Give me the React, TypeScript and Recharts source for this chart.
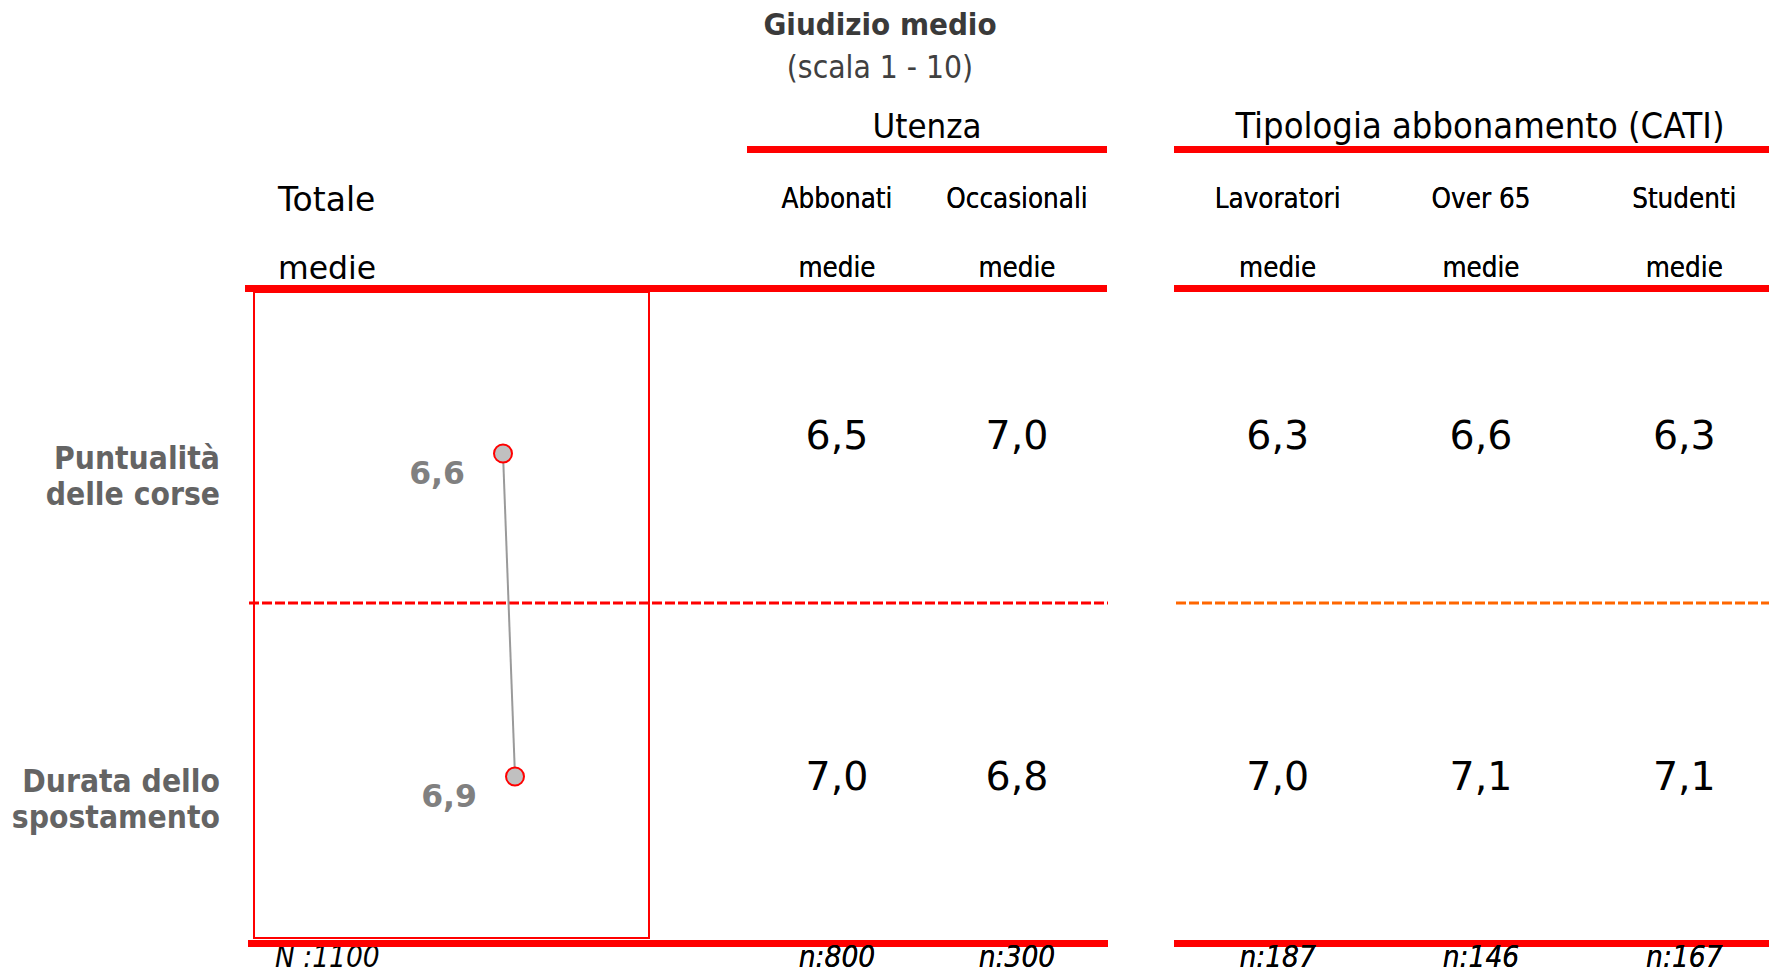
import React from 'react';
import { ComposedChart, ScatterChart, Scatter, Line, XAxis, YAxis, LabelList } from 'recharts';

// ---------- data ----------
const ROWS = ['Puntualità delle corse', 'Durata dello spostamento'];
const ROW_LINES = [
  ['Puntualità', 'delle corse'],
  ['Durata dello', 'spostamento'],
];
const TOTAL_VALUES = [6.6, 6.9];
const TOTAL_N = 1100;

const UTENZA_COLS = ['Abbonati', 'Occasionali'];
const UTENZA_N = [800, 300];
const ABBONATI = [6.5, 7.0];
const OCCASIONALI = [7.0, 6.8];

const TIPO_COLS = ['Lavoratori', 'Over 65', 'Studenti'];
const TIPO_N = [187, 146, 167];
const LAVORATORI = [6.3, 7.0];
const OVER65 = [6.6, 7.1];
const STUDENTI = [6.3, 7.1];

const TITLE = 'Giudizio medio';
const SUBTITLE = '(scala 1 - 10)';
const GROUP_UTENZA = 'Utenza';
const GROUP_TIPO = 'Tipologia abbonamento (CATI)';
const TOTAL_LABEL = 'Totale';
const MEAN_LABEL = 'medie';

// ---------- helpers ----------
const FONT = '"DejaVu Sans", Verdana, sans-serif';
const FONT_C = '"DejaVu Sans Condensed", "DejaVu Sans", sans-serif';
const RED = '#ff0000';
const ORANGE = '#ff6600';
const ROW_DY = [-5, 13];
const fmt = (v: number) => v.toFixed(1).replace('.', ',');

const totalData = ROWS.map((row, i) => ({ row, value: TOTAL_VALUES[i] }));

const buildCells = (cols: string[], series: number[][]) =>
  cols.flatMap((col, ci) => ROWS.map((row, ri) => ({ col, row, ri, value: series[ci][ri] })));

const utenzaCells = buildCells(UTENZA_COLS, [ABBONATI, OCCASIONALI]);
const tipoCells = buildCells(TIPO_COLS, [LAVORATORI, OVER65, STUDENTI]);

const RowTick = (props: any) => {
  const { x, y, payload } = props;
  const idx = ROWS.indexOf(payload.value);
  const lines = ROW_LINES[idx] || [payload.value];
  return (
    <g>
      {lines.map((l: string, k: number) => (
        <text
          key={k}
          x={x}
          y={y + 15 + k * 36}
          textAnchor="end"
          fontFamily={FONT_C}
          fontWeight="bold"
          fontSize={31.5}
          fill="#646464"
        >
          {l}
        </text>
      ))}
    </g>
  );
};

const TotalLabel = (props: any) => {
  const { x, y, value } = props;
  return (
    <text x={x - 38} y={y + 30} textAnchor="end" fontFamily={FONT} fontWeight="bold" fontSize={31.5} fill="#808080">
      {fmt(value)}
    </text>
  );
};

const makeColTick = (cols: string[], ns: number[]) => (props: any) => {
  const { x, payload } = props;
  const i = cols.indexOf(payload.value);
  return (
    <g>
      <text x={x} y={208} textAnchor="middle" fontFamily={FONT_C} fontSize={27.5} fill="#000">
        {payload.value}
      </text>
      <text x={x} y={277} textAnchor="middle" fontFamily={FONT_C} fontSize={27.5} fill="#000">
        {MEAN_LABEL}
      </text>
      <text x={x} y={967} textAnchor="middle" fontFamily={FONT_C} fontStyle="italic" fontSize={29.5} fill="#000">
        {'n:' + ns[i]}
      </text>
    </g>
  );
};

const ValueShape = (props: any) => {
  const { cx, cy, payload } = props;
  return (
    <text x={cx} y={cy + ROW_DY[payload.ri]} textAnchor="middle" fontFamily={FONT} fontSize={39.5} fill="#000">
      {fmt(payload.value)}
    </text>
  );
};

const TableChart = ({ cols, ns, cells, left, width }: any) => (
  <div style={{ position: 'absolute', left, top: 0 }}>
    <ScatterChart width={width} height={975} margin={{ top: 262, bottom: 37, left: 0, right: 0 }}>
      <XAxis
        dataKey="col"
        type="category"
        scale="band"
        orientation="top"
        allowDuplicatedCategory={false}
        axisLine={false}
        tickLine={false}
        height={30}
        interval={0}
        tick={makeColTick(cols, ns)}
      />
      <YAxis dataKey="row" type="category" scale="band" allowDuplicatedCategory={false} reversed hide />
      <Scatter data={cells} shape={ValueShape} isAnimationActive={false} />
    </ScatterChart>
  </div>
);

export default function App() {
  return (
    <div
      style={{
        position: 'absolute',
        left: 0,
        top: 0,
        width: 1769,
        height: 975,
        overflow: 'hidden',
        background: '#fff',
        fontFamily: FONT,
      }}
    >
      <svg width={1769} height={975} style={{ position: 'absolute', left: 0, top: 0 }}>
        <text x={880} y={35} textAnchor="middle" fontFamily={FONT_C} fontWeight="bold" fontSize={31} fill="#3a3a3a">
          {TITLE}
        </text>
        <text x={880} y={78} textAnchor="middle" fontFamily={FONT_C} fontSize={31.5} fill="#404040">
          {SUBTITLE}
        </text>
        <text x={927} y={138} textAnchor="middle" fontFamily={FONT_C} fontSize={34.5} fill="#000">
          {GROUP_UTENZA}
        </text>
        <text x={1480} y={138} textAnchor="middle" fontFamily={FONT_C} fontSize={36} fill="#000">
          {GROUP_TIPO}
        </text>
        <text x={278} y={211} fontFamily={FONT} fontSize={33} fill="#000">
          {TOTAL_LABEL}
        </text>
        <text x={278} y={279} fontFamily={FONT} fontSize={31.5} fill="#000">
          {MEAN_LABEL}
        </text>
        <text x={275} y={967} fontFamily={FONT_C} fontStyle="italic" fontSize={29.5} fill="#000">
          {'N :' + TOTAL_N}
        </text>
        {/* group underlines */}
        <rect x={747} y={146} width={360} height={7} fill={RED} />
        <rect x={1174} y={146} width={600} height={7} fill={RED} />
        {/* header lines */}
        <rect x={245} y={285} width={862} height={7} fill={RED} />
        <rect x={1174} y={285} width={600} height={7} fill={RED} />
        {/* bottom lines */}
        <rect x={248} y={940} width={860} height={7} fill={RED} />
        <rect x={1174} y={940} width={600} height={7} fill={RED} />
        {/* totale box */}
        <rect x={254} y={292} width={395} height={646} fill="none" stroke={RED} strokeWidth={2} />
        {/* row separators */}
        <line x1={249} y1={603} x2={1108} y2={603} stroke={RED} strokeWidth={3} strokeDasharray="10 3" />
        <line x1={1176} y1={603} x2={1769} y2={603} stroke={ORANGE} strokeWidth={3} strokeDasharray="10 3" />
      </svg>

      <div style={{ position: 'absolute', left: 0, top: 0 }}>
        <ComposedChart
          layout="vertical"
          width={700}
          height={975}
          data={totalData}
          margin={{ top: 292, bottom: 37, left: 53, right: 51 }}
        >
          <XAxis type="number" domain={[0.35, 10.25]} allowDataOverflow hide />
          <YAxis
            type="category"
            dataKey="row"
            scale="band"
            width={200}
            tickSize={0}
            tickMargin={33}
            axisLine={false}
            tickLine={false}
            interval={0}
            tick={RowTick}
          />
          <Line
            dataKey="value"
            stroke="#9a9a9a"
            strokeWidth={2}
            dot={{ r: 9, fill: '#c0c0c0', stroke: RED, strokeWidth: 2 }}
            isAnimationActive={false}
          >
            <LabelList dataKey="value" content={TotalLabel} />
          </Line>
        </ComposedChart>
      </div>

      <TableChart cols={UTENZA_COLS} ns={UTENZA_N} cells={utenzaCells} left={747} width={360} />
      <TableChart cols={TIPO_COLS} ns={TIPO_N} cells={tipoCells} left={1176} width={610} />
    </div>
  );
}
